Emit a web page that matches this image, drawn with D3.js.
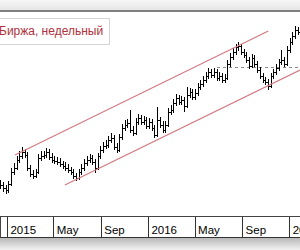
<!DOCTYPE html>
<html>
<head>
<meta charset="utf-8">
<script src="https://cdn.jsdelivr.net/npm/d3@7"></script>
<style>
  body { margin: 0; background: #fff; overflow: hidden; }
  svg { display: block; }
</style>
</head>
<body>
<script>
// weekly bars, chart window 300x250
var width = 300, height = 250;

var title = "Биржа, недельный";
var firstWeek = "2014-12-15";

var opens = [
  56,55,53.5,52.5,55.5,61.5,63.5,67.5,69.5,71.5,
  70,63.5,60.5,59.5,61.5,68.5,69.5,70,71.5,69,
  67.5,67,66.5,65.5,64.5,63.5,62.5,61.5,59.5,58.5,
  61.5,63.5,66,67.5,68.5,66.5,63.5,69.5,72.5,74.5,
  75,77.5,78.5,74,72.5,79,83.5,85,86,82.5,
  81,86.5,88.5,86.5,87.5,84.5,86.5,83.5,80,87.5,
  85,82.5,85,91.5,92.5,96,98.5,96.5,97.5,94.5,
  100,101.5,99,101,104,105.5,107.5,109.5,111.5,110,
  111.5,108.5,109.5,107.5,108.5,115.5,119,121.5,124,124.5,
  121.5,120,117.5,114.5,118.5,115.5,112.5,109.5,107.5,106.5,
  104.5,109.5,111.5,113.5,116.5,117.5,115.5,122.5,126.5,129.5,132.5
];
var highs = [
  57.5,56.5,55,57,63.5,66,69.5,72,74,73,
  71.5,65,62.5,63,70.5,72,72,73.5,73,71,
  69.5,69,68.5,67,66.5,65.5,64,63,61,63,
  65.5,68,69.5,70.5,70,68,71,74.5,76.5,77.5,
  79.5,81,80,76,80.5,85.5,87.5,88,92.5,84.5,
  88.5,90.5,90,89.5,89,88.5,88,85,94,89,
  87,87,93.5,95,98,100.5,100,99.5,99,104,
  103.5,103,103,106,107.5,109.5,111.5,113.5,113,113.5,
  113,111.5,111,110.5,117.5,121,123.5,125.5,126.5,125.5,
  123,121.5,119,120.5,120,117,114,111,109,108,
  111,113,115.5,118,122.5,119,124.5,128.5,131.5,134.5,134
];
var lows = [
  53,51.5,50.5,51,54.5,60,62.5,66,68,68.5,
  62,59,58,58.5,60.5,67,68,68.5,67.5,66,
  65.5,65,64,63,62,61,60,58,57,57.5,
  60,62,64.5,66,65,61,62.5,68,71,73,
  73.5,76,72.5,71,71.5,77.5,82,83.5,81,79.5,
  80,85,85,85,83,83,82,78.5,79,83.5,
  81,81,84,90,91,94.5,95,95,91.5,93.5,
  98.5,97.5,97.5,99.5,102.5,104,106,108,108.5,108.5,
  107,107,106,106,107.5,114,117.5,120,122,120,
  118.5,116,113,113.5,114,111,108,106,105,102.5,
  103.5,108,110,112,115,114,114.5,121,125,128,130
];
var closes = [
  55,53.5,52.5,55.5,61.5,63.5,67.5,69.5,71.5,70,
  63.5,60.5,59.5,61.5,68.5,69.5,70,71.5,69,67.5,
  67,66.5,65.5,64.5,63.5,62.5,61.5,59.5,58.5,61.5,
  63.5,66,67.5,68.5,66.5,63.5,69.5,72.5,74.5,75,
  77.5,78.5,74,72.5,79,83.5,85,86,82.5,81,
  86.5,88.5,86.5,87.5,84.5,86.5,83.5,80,87.5,85,
  82.5,85,91.5,92.5,96,98.5,96.5,97.5,94.5,100,
  101.5,99,101,104,105.5,107.5,109.5,111.5,110,111.5,
  108.5,109.5,107.5,108.5,115.5,119,121.5,124,124.5,121.5,
  120,117.5,114.5,118.5,115.5,112.5,109.5,107.5,106.5,104.5,
  109.5,111.5,113.5,116.5,117.5,115.5,122.5,126.5,129.5,132.5,131.5
];

var tickDates = ["2015-01-01","2015-05-01","2015-09-01","2016-01-01","2016-05-01","2016-09-01","2017-01-01"];
var tickLabels = ["2015","May","Sep","2016","May","Sep","2017"];

// trend channel and level
var upperChannel = [["2015-01-22", 70], ["2016-11-08", 132]];
var lowerChannel = [["2015-05-31", 55], ["2017-01-29", 112.5]];
var levelLine = [["2016-06-29", 114], ["2017-01-29", 114]];

var parse = d3.timeParse("%Y-%m-%d");

var svg = d3.select("body").append("svg")
    .attr("width", width)
    .attr("height", height);

var defs = svg.append("defs");
var topGrad = defs.append("linearGradient").attr("id", "topg")
    .attr("x1", 0).attr("y1", 0).attr("x2", 0).attr("y2", 1);
topGrad.append("stop").attr("offset", "0%").attr("stop-color", "#f7f7f7");
topGrad.append("stop").attr("offset", "100%").attr("stop-color", "#e6e6e6");
var botGrad = defs.append("linearGradient").attr("id", "botg")
    .attr("x1", 0).attr("y1", 0).attr("x2", 0).attr("y2", 1);
botGrad.append("stop").attr("offset", "0%").attr("stop-color", "#b8b8b8");
botGrad.append("stop").attr("offset", "100%").attr("stop-color", "#f2f2f2");

// scales
var x = d3.scaleTime()
    .domain([parse("2014-12-14"), parse("2017-01-29")])
    .range([0, width]);
var y = d3.scaleLinear()
    .domain([40, 140])
    .range([215, 15]);

// frame top
svg.append("rect").attr("x", 0).attr("y", 0).attr("width", width).attr("height", 10)
    .attr("fill", "url(#topg)");
svg.append("rect").attr("x", 0).attr("y", 10).attr("width", width).attr("height", 2)
    .attr("fill", "#808080");

// level line sits behind the bars
var line = d3.line()
    .x(function(d) { return x(parse(d[0])); })
    .y(function(d) { return y(d[1]); });

svg.append("path").datum(levelLine)
    .attr("d", line).attr("fill", "none").attr("stroke", "#8a8a8a")
    .attr("stroke-dasharray", "3,3")
    .attr("shape-rendering", "crispEdges");

// bars
var start = parse(firstWeek);
var bars = closes.map(function(c, i) {
  return { date: d3.timeMonday.offset(start, i), o: opens[i], h: highs[i], l: lows[i], c: c };
});

svg.append("g")
  .selectAll("path")
  .data(bars)
  .enter().append("path")
    .attr("fill", "none")
    .attr("stroke", "#000")
    .attr("stroke-width", 1)
    .attr("shape-rendering", "crispEdges")
    .attr("d", function(d) {
      var px = Math.round(x(d.date)) + 0.5;
      return "M" + px + "," + Math.round(y(d.h)) + "V" + Math.round(y(d.l)) +
        "M" + (px - 1.5) + "," + (Math.round(y(d.o)) + 0.5) + "H" + px +
        "M" + px + "," + (Math.round(y(d.c)) + 0.5) + "H" + (px + 1.5);
    });

// channel lines
svg.append("path").datum(upperChannel)
    .attr("d", line).attr("fill", "none").attr("stroke", "#d27a80").attr("stroke-width", 1.2);
svg.append("path").datum(lowerChannel)
    .attr("d", line).attr("fill", "none").attr("stroke", "#d27a80").attr("stroke-width", 1.2);

// title box
svg.append("rect")
    .attr("x", -1.5).attr("y", 18.5).attr("width", 111).attr("height", 26)
    .attr("fill", "#fff").attr("stroke", "#d4d4d4");
svg.append("text")
    .attr("x", -1).attr("y", 35)
    .attr("font-family", "Liberation Sans, Arial, sans-serif")
    .attr("font-size", 12)
    .attr("fill", "#b0303c")
    .text(title);

// time axis
svg.append("rect").attr("x", 0).attr("y", 216).attr("width", width).attr("height", 21)
    .attr("fill", "#fff");
svg.append("rect").attr("x", 0).attr("y", 238).attr("width", width).attr("height", 12)
    .attr("fill", "url(#botg)");

var xAxis = svg.append("g")
    .attr("transform", "translate(0,216)")
    .call(d3.axisBottom(x)
      .tickValues(tickDates.map(parse))
      .tickSize(21)
      .tickFormat(function(d, i) { return tickLabels[i]; }));
xAxis.select(".domain").remove();
xAxis.selectAll(".tick line")
    .attr("stroke", "#333")
    .attr("shape-rendering", "crispEdges");
xAxis.selectAll(".tick text")
    .attr("x", 3)
    .attr("y", 17.5)
    .attr("dy", 0)
    .attr("text-anchor", "start")
    .attr("font-family", "Liberation Sans, Arial, sans-serif")
    .attr("font-size", 11.5)
    .attr("fill", "#000");

svg.append("line").attr("x1", 0).attr("x2", width).attr("y1", 216.5).attr("y2", 216.5)
    .attr("stroke", "#444");
svg.append("line").attr("x1", 0).attr("x2", width).attr("y1", 237.5).attr("y2", 237.5)
    .attr("stroke", "#333");
svg.append("line").attr("x1", 0.5).attr("x2", 0.5).attr("y1", 216).attr("y2", 238)
    .attr("stroke", "#444");
</script>
</body>
</html>
